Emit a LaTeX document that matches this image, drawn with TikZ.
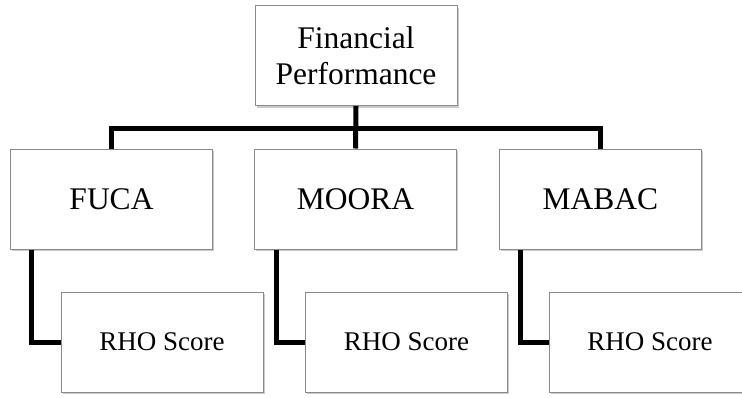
\documentclass[tikz,border=0pt]{standalone}
\usepackage{fontspec}
\setmainfont{Liberation Serif}
\usetikzlibrary{shadows}
\definecolor{boxline}{HTML}{8A8A8A}
\tikzset{
  x=1pt, y=-1pt,
  box/.style={draw=boxline, line width=1pt, fill=white, inner sep=0pt, align=center,
    drop shadow={opacity=0.35, shadow xshift=1.5pt, shadow yshift=-2pt, fill=black!60}},
  bigbox/.style={box, minimum width=202pt, minimum height=100pt,
    font=\fontsize{31.5}{36}\selectfont},
  rhobox/.style={box, minimum width=202pt, minimum height=100pt,
    font=\fontsize{27}{30}\selectfont},
  conn/.style={line width=5pt, draw=black, line join=miter}
}
\begin{document}
\begin{tikzpicture}
\useasboundingbox (0,0) rectangle (742,397);
\coordinate (barL) at (111.5,128);
\coordinate (barR) at (600.5,128);
\node[bigbox] (top) at (356,55.5) {Financial\\Performance};
\node[bigbox] (fuca) at (111.5,199) {FUCA};
\node[bigbox] (moora) at (355.5,199) {MOORA};
\node[bigbox] (mabac) at (600.5,199) {MABAC};
\node[rhobox] (rho1) at (162,342) {RHO Score};
\node[rhobox] (rho2) at (406.5,342) {RHO Score};
\node[rhobox] (rho3) at (650,342) {RHO Score};
\draw[conn, line cap=rect] (barL) -- (barR);
\draw[conn] (fuca.north) -- (barL);
\draw[conn] (mabac.north) -- (barR);
\draw[conn] (top.south) -- (moora.north);
\draw[conn] ([xshift=-80.5pt]fuca.south) |- (rho1.west);
\draw[conn] ([xshift=-79.5pt]moora.south) |- (rho2.west);
\draw[conn] ([xshift=-80.5pt]mabac.south) |- (rho3.west);
\end{tikzpicture}
\end{document}
